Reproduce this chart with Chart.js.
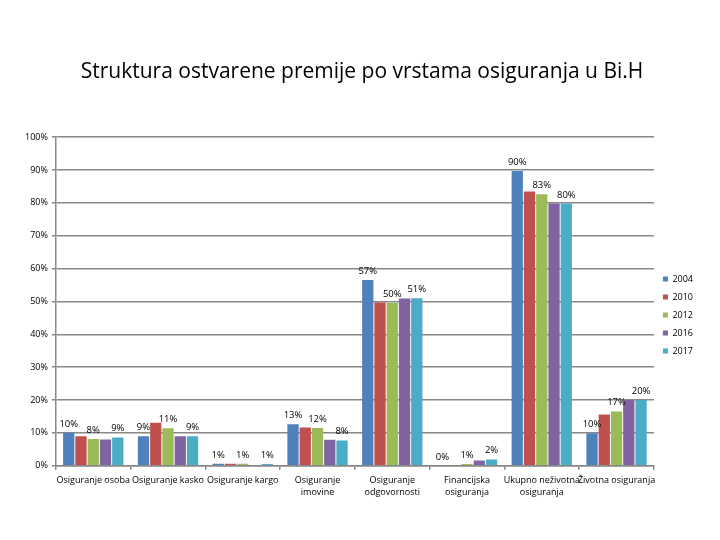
<!DOCTYPE html>
<html>
<head>
<meta charset="utf-8">
<script src="https://cdn.jsdelivr.net/npm/chart.js@4"></script>
<style>
  html, body { margin: 0; padding: 0; background: #fff; }
  #wrap { width: 720px; height: 540px; }
</style>
</head>
<body>
<div id="wrap"><canvas id="chart"></canvas></div>
<script>
const categories = [
  "Osiguranje osoba",
  "Osiguranje kasko",
  "Osiguranje kargo",
  ["Osiguranje", "imovine"],
  ["Osiguranje", "odgovornosti"],
  ["Financijska", "osiguranja"],
  ["Ukupno neživotna", "osiguranja"],
  "Životna osiguranja"
];
const years = ["2004", "2010", "2012", "2016", "2017"];
const colors = ["#4F81BD", "#C0504D", "#9BBB59", "#8064A2", "#4BACC6"];

const v2004 = [10, 9, 0.6, 12.6, 56.5, 0, 89.7, 9.9];
const v2010 = [9, 13.1, 0.6, 11.6, 49.7, 0.1, 83.5, 15.6];
const v2012 = [8.1, 11.4, 0.6, 11.5, 49.5, 0.5, 82.6, 16.5];
const v2016 = [8, 9, 0.1, 7.9, 50.9, 1.6, 79.8, 20];
const v2017 = [8.6, 9, 0.5, 7.7, 51, 1.9, 79.8, 20];
const seriesValues = [v2004, v2010, v2012, v2016, v2017];

// Excel showed labels only on these series
const labelledYears = ["2004", "2012", "2017"];
const yTicks = [0, 10, 20, 30, 40, 50, 60, 70, 80, 90, 100];

const gridColor = "#888888";

const barLabels = {
  id: "barLabels",
  afterDatasetsDraw(chart) {
    const ctx = chart.ctx;
    ctx.save();
    ctx.font = "9.5px 'Open Sans', sans-serif";
    ctx.fillStyle = "#000";
    ctx.textAlign = "center";
    ctx.textBaseline = "bottom";
    chart.data.datasets.forEach(function (ds, i) {
      if (!labelledYears.includes(ds.label)) return;
      chart.getDatasetMeta(i).data.forEach(function (bar, j) {
        ctx.fillText(Math.round(ds.data[j]) + "%", bar.x, bar.y - 4);
      });
    });
    ctx.restore();
  }
};

new Chart(document.getElementById("chart"), {
  type: "bar",
  data: {
    labels: categories,
    datasets: years.map(function (y, i) {
      return {
        label: y,
        data: seriesValues[i],
        backgroundColor: colors[i],
        barPercentage: 0.92,
        categoryPercentage: 0.82
      };
    })
  },
  options: {
    responsive: true,
    maintainAspectRatio: false,
    animation: false,
    layout: { padding: { left: 21, right: 17, top: 0, bottom: 36 } },
    plugins: {
      title: {
        display: true,
        text: "Struktura ostvarene premije po vrstama osiguranja u Bi.H",
        color: "#000",
        font: { family: "'Open Sans', sans-serif", size: 21, weight: "normal" },
        padding: { top: 59, bottom: 53 }
      },
      legend: {
        position: "right",
        fullSize: false,
        title: {
          display: true,
          text: " ",
          font: { size: 1 },
          padding: { top: 13, bottom: 13 }
        },
        labels: {
          boxWidth: 5,
          boxHeight: 5,
          padding: 9,
          color: "#000",
          font: { family: "'Open Sans', sans-serif", size: 9 }
        }
      },
      tooltip: { enabled: false }
    },
    scales: {
      x: {
        grid: {
          offset: true,
          drawOnChartArea: false,
          color: gridColor,
          lineWidth: 1.5,
          tickLength: 4
        },
        border: { color: gridColor, width: 1.5 },
        ticks: {
          color: "#000",
          maxRotation: 0,
          autoSkip: false,
          padding: 5,
          font: { family: "'Open Sans', sans-serif", size: 9, lineHeight: 1.35 }
        }
      },
      y: {
        min: 0,
        max: 100,
        afterBuildTicks: function (axis) {
          axis.ticks = yTicks.map(function (v) { return { value: v }; });
        },
        grid: { color: gridColor, lineWidth: 1.5, tickLength: 4 },
        border: { color: gridColor, width: 1.5 },
        ticks: {
          color: "#000",
          padding: 4,
          callback: function (v) { return v + "%"; },
          font: { family: "'Open Sans', sans-serif", size: 9 }
        }
      }
    }
  },
  plugins: [barLabels]
});
</script>
</body>
</html>
